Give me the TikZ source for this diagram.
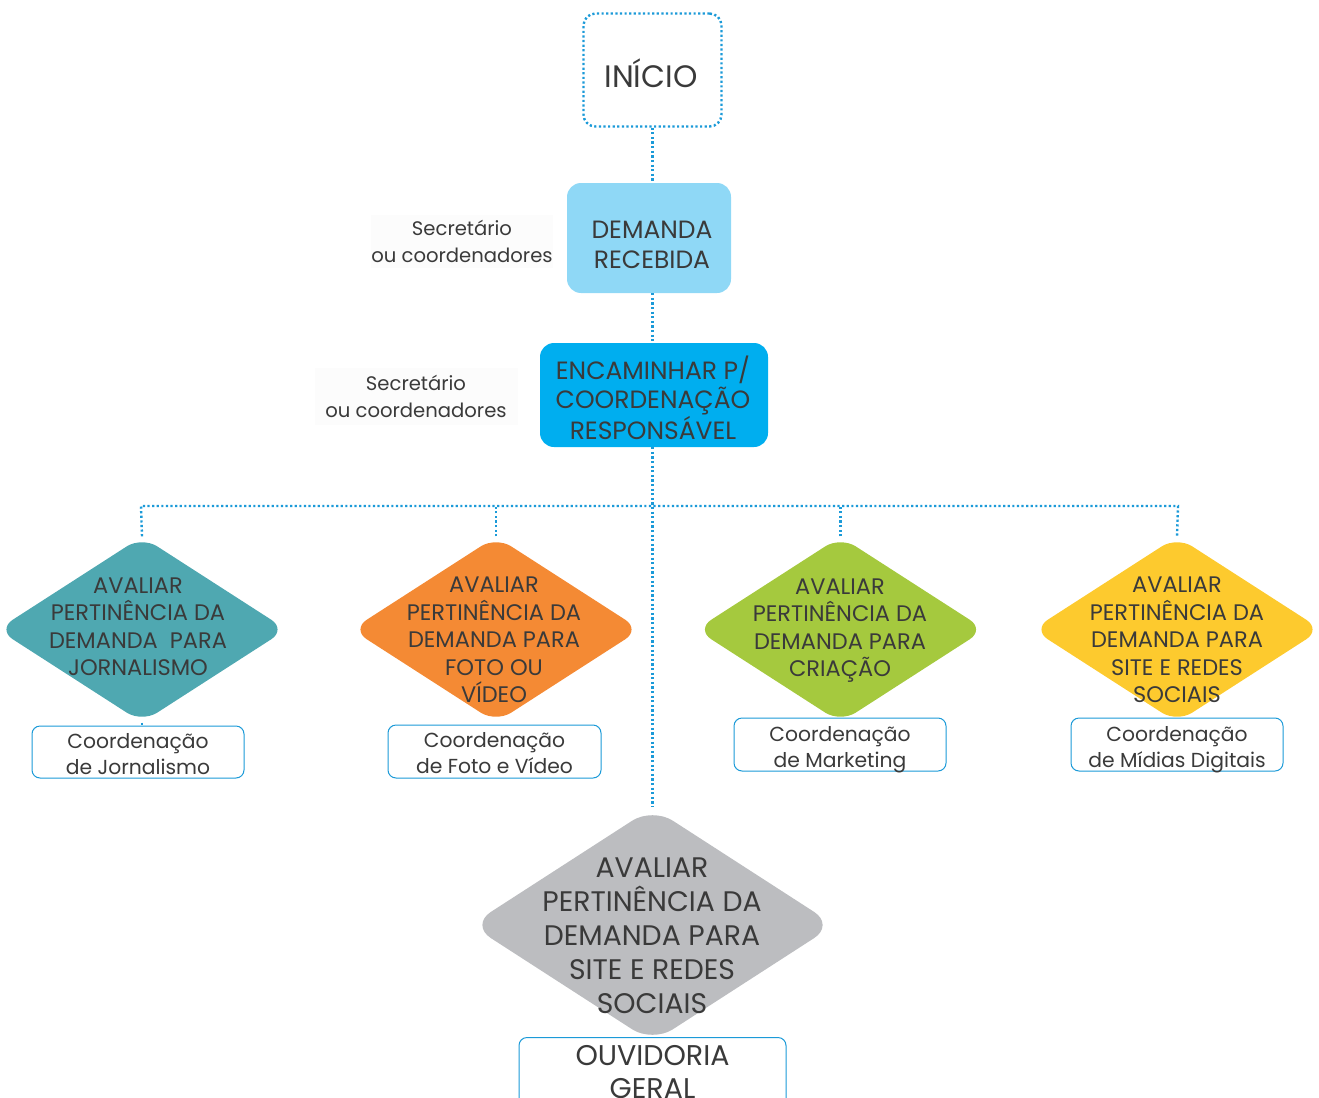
\documentclass[tikz,border=0pt]{standalone}
\usepackage{fontspec}
\setmainfont{Poppins}
\usetikzlibrary{shapes.geometric}
\definecolor{dotblue}{HTML}{1B9AD8}
\definecolor{lblue}{HTML}{8FD8F6}
\definecolor{cblue}{HTML}{00AEEF}
\definecolor{txt}{HTML}{3A3A3A}
\definecolor{cteal}{HTML}{4FA8B1}
\definecolor{corange}{HTML}{F48A34}
\definecolor{cgreen}{HTML}{A5C93E}
\definecolor{cyellow}{HTML}{FDCA2E}
\definecolor{cgray}{HTML}{BCBDC0}
\definecolor{faint}{HTML}{FCFCFC}
\tikzset{
  conn/.style={draw=dotblue, line width=2.4pt, dash pattern=on 2.2pt off 2.4pt},
  box/.style={rounded corners=14pt, inner sep=0pt, text=txt, align=center},
  dia/.style={diamond, inner sep=0pt, rounded corners=18pt, minimum width=289pt, minimum height=186pt},
  dtext/.style={text=txt, align=center, font=\fontsize{22.5}{27.5}\selectfont},
  coord/.style={draw=dotblue, line width=1pt, rounded corners=8pt, fill=white, text=txt, align=center, inner sep=0pt, font=\fontsize{20.3}{26.5}\selectfont},
  lbl/.style={fill=faint, text=txt, align=center, font=\fontsize{19.6}{26.5}\selectfont, inner sep=0pt}
}
\begin{document}
\begin{tikzpicture}[x=1pt,y=-1pt]
\useasboundingbox (0,0) rectangle (1319,1097);
\clip (0,0) rectangle (1319,1097);
% top boxes
\node[box, conn, minimum width=138pt, minimum height=113pt, rounded corners=12pt] (ini) at (652.5,70) {};
\node[text=txt, font=\fontsize{31}{34}\selectfont] (tini) at (651,73) {INÍCIO};
\node[box, fill=lblue, minimum width=164pt, minimum height=110pt] (dem) at (649,238) {};
\node[text=txt, align=center, font=\fontsize{25}{30}\selectfont] (tdem) at (652,245) {DEMANDA\\RECEBIDA};
\node[box, fill=cblue, minimum width=228pt, minimum height=104pt] (enc) at (654,395) {};
\node[text=txt, align=center, font=\fontsize{25}{29}\selectfont] (tenc) at (653,398) {ENCAMINHAR P/\\COORDENAÇÃO\\RESPONSÁVEL};
\node[lbl, minimum width=165pt, minimum height=53pt] (l1) at (462,241.5) {Secretário\\ou coordenadores};
\node[lbl, minimum width=203pt, minimum height=57pt] (l2) at (416,396.5) {Secretário\\ou coordenadores};
% diamonds
\node[dia, fill=cteal] (d1) at (142,629.5) {};
\node[dia, fill=corange] (d2) at (496,629.5) {};
\node[dia, fill=cgreen] (d3) at (840.5,629.5) {};
\node[dia, fill=cyellow] (d4) at (1177,629.5) {};
\node[diamond, inner sep=0pt, rounded corners=24pt, minimum width=364pt, minimum height=235pt, fill=cgray] (d5) at (652.5,925) {};
% connectors
\coordinate (hl) at (141,506);
\coordinate (hr) at (1178,506);
\draw[conn] (ini.south) -- (dem.north -| ini.south);
\draw[conn] (dem.south -| ini.south) -- (enc.north -| ini.south);
\draw[conn] (enc.south -| ini.south) -- (d5.north);
\draw[conn] (d1.north) -- (hl) -- (hr) -- (d4.north);
\draw[conn] (d2.north) -- (d2.north |- hl);
\draw[conn] (d3.north) -- (d3.north |- hl);
% diamond texts
\node[dtext] (t1) at (138,626.5) {AVALIAR\\PERTINÊNCIA DA\\DEMANDA\ \ PARA\\JORNALISMO};
\node[dtext] (t2) at (494,640) {AVALIAR\\PERTINÊNCIA DA\\DEMANDA PARA\\FOTO OU\\VÍDEO};
\node[dtext] (t3) at (840,630.5) {AVALIAR\\PERTINÊNCIA DA\\DEMANDA PARA\\CRIAÇÃO};
\node[dtext] (t4) at (1177,640) {AVALIAR\\PERTINÊNCIA DA\\DEMANDA PARA\\SITE E REDES\\SOCIAIS};
\node[text=txt, align=center, font=\fontsize{28.3}{34}\selectfont] (t5) at (652,936) {AVALIAR\\PERTINÊNCIA DA\\DEMANDA PARA\\SITE E REDES\\SOCIAIS};
% coordination boxes
\node[coord, minimum width=212pt, minimum height=52pt] (c1) at (138,752) {};
\node[text=txt, align=center, font=\fontsize{20.3}{26.5}\selectfont] at (138,754) {Coordenação\\de Jornalismo};
\node[coord, minimum width=213pt, minimum height=53pt] (c2) at (494.5,751.5) {};
\node[text=txt, align=center, font=\fontsize{20.3}{26.5}\selectfont] at (494.5,753) {Coordenação\\de Foto e Vídeo};
\node[coord, minimum width=212pt, minimum height=53pt] (c3) at (840,744.5) {};
\node[text=txt, align=center, font=\fontsize{20.3}{26.5}\selectfont] at (840,749.5) {Coordenação\\de Marketing};
\node[coord, minimum width=212pt, minimum height=53pt] (c4) at (1177,744.5) {};
\node[text=txt, align=center, font=\fontsize{20.3}{26.5}\selectfont] at (1177,749.5) {Coordenação\\de Mídias Digitais};
\draw[conn] (d1.south) -- (d1.south |- c1.north);
\node[coord, minimum width=267pt, minimum height=80pt, anchor=north] (c5) at (652.5,1037) {};
\node[text=txt, align=center, font=\fontsize{28.5}{33}\selectfont] (t6) at (652.5,1072) {OUVIDORIA\\GERAL};
\end{tikzpicture}
\end{document}
